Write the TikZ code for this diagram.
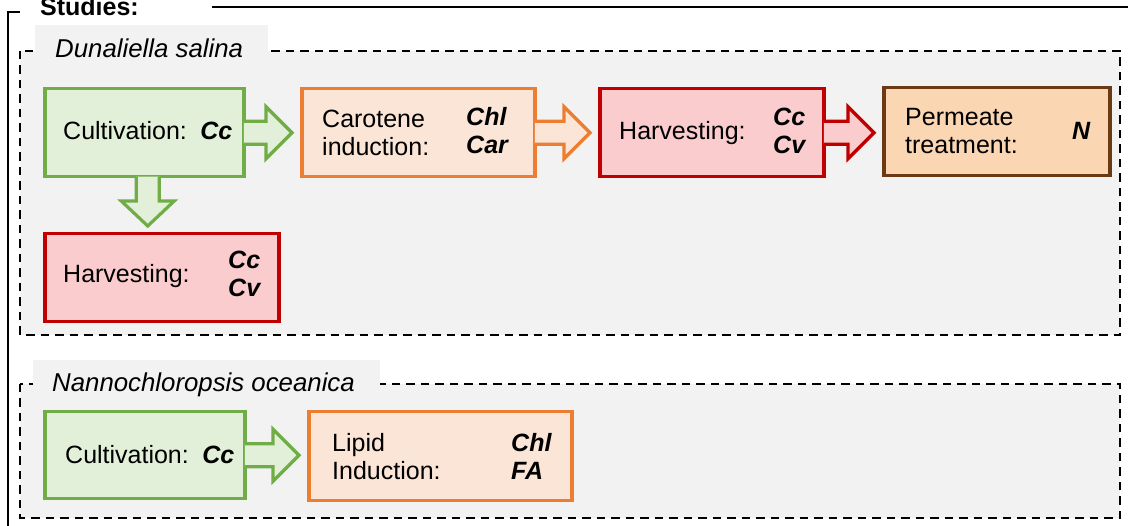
\documentclass[tikz,border=0pt]{standalone}
\usepackage{fontspec}
\setmainfont{Liberation Sans}
\usetikzlibrary{calc}
\definecolor{grnB}{HTML}{70AD47}
\definecolor{grnF}{HTML}{E2F0D9}
\definecolor{orgB}{HTML}{ED7D31}
\definecolor{orgF}{HTML}{FBE5D6}
\definecolor{redB}{HTML}{C00000}
\definecolor{redF}{HTML}{FACCCD}
\definecolor{brnB}{HTML}{6B3A14}
\definecolor{brnF}{HTML}{FBD6B2}
\definecolor{bgG}{HTML}{F2F2F2}
\newcommand{\bi}[1]{\textbf{\textit{#1}}}
\newcommand{\rarrow}[3]{%
  \coordinate (s) at (#2.east);
  \coordinate (t0) at ($(#3.west)+(-8,0)$);
  \coordinate (t) at (t0 |- s);
  \filldraw[#1] ($(s)+(-1.75,-11.5)$) -- ($(t)+(-26,-11.5)$) -- ($(t)+(-26,-26)$) -- (t)
    -- ($(t)+(-26,26)$) -- ($(t)+(-26,11.5)$) -- ($(s)+(-1.75,11.5)$);}
\begin{document}
\begin{tikzpicture}[x=1pt,y=-1pt,
  txt/.style={font=\fontsize{25}{28}\selectfont, inner sep=0pt, align=left, anchor=west},
  box/.style={draw, line width=3.5pt, inner sep=0pt, anchor=north west},
  grp/.style={draw, dashed, dash pattern=on 8.5pt off 6pt, line width=2.7pt, fill=bgG},
  arr/.style={line width=3.2pt, miter limit=10}]
\useasboundingbox (0,0) rectangle (1128,526);
\fill[white] (0,0) rectangle (1128,526);
% outer frame
\draw[line width=2pt] (20,12) -- (8,12) -- (8,530);
\draw[line width=2pt] (212,7) -- (1130,7);
\node[font=\fontsize{25}{30}\selectfont\bfseries, inner sep=0pt, anchor=base west] (studies) at (40,16) {Studies:};
% groups
\draw[grp] (20,51) rectangle (1120,335);
\fill[bgG] (35,25) rectangle (268,64);
\node[font=\fontsize{25.8}{30}\selectfont\itshape, inner sep=0pt, anchor=base west] (ds) at (55,58) {Dunaliella salina};
\draw[grp] (20,384) rectangle (1120,518);
\fill[bgG] (33,360) rectangle (380,398);
\node[font=\fontsize{25.8}{30}\selectfont\itshape, inner sep=0pt, anchor=base west] (no) at (52,392) {Nannochloropsis oceanica};
% boxes
\node[box, draw=grnB, fill=grnF, minimum width=199pt, minimum height=88pt] (cd) at (43,87) {};
\node[box, draw=orgB, fill=orgF, minimum width=233pt, minimum height=88pt] (car) at (300,87) {};
\node[box, draw=redB, fill=redF, minimum width=224pt, minimum height=88pt] (hv) at (598,87) {};
\node[box, draw=brnB, fill=brnF, minimum width=226pt, minimum height=88pt] (pt) at (882,86) {};
\node[box, draw=redB, fill=redF, minimum width=234pt, minimum height=88pt] (hv2) at (43,232) {};
\node[box, draw=grnB, fill=grnF, minimum width=200pt, minimum height=87pt] (cn) at (43,410) {};
\node[box, draw=orgB, fill=orgF, minimum width=263pt, minimum height=89pt] (li) at (307,410) {};
% arrows
\rarrow{arr, draw=grnB, fill=grnF}{cd}{car}
\rarrow{arr, draw=orgB, fill=orgF}{car}{hv}
\rarrow{arr, draw=redB, fill=redF}{hv}{pt}
\rarrow{arr, draw=grnB, fill=grnF}{cn}{li}
\coordinate (ds0) at ($(cd.south)+(3.5,0)$);
\coordinate (dt0) at ($(hv2.north)+(0,-6)$);
\coordinate (dt) at (ds0 |- dt0);
\filldraw[arr, draw=grnB, fill=grnF] ($(ds0)+(-11.5,-1.75)$) -- ($(dt)+(-11.5,-25)$) -- ($(dt)+(-26.5,-25)$) -- (dt)
  -- ($(dt)+(26.5,-25)$) -- ($(dt)+(11.5,-25)$) -- ($(ds0)+(11.5,-1.75)$);
% texts
\node[txt] (cdT) at (63,131) {Cultivation:\, \bi{Cc}};
\node[txt] (carT) at (322,133) {Carotene\\induction:};
\node[txt] (carV) at (466,131) {\bi{Chl}\\\bi{Car}};
\node[txt] (hvT) at (619,133) {Harvesting:};
\node[txt] (hvV) at (773,131) {\bi{Cc}\\\bi{Cv}};
\node[txt] (ptT) at (905,131) {Permeate\\treatment:};
\node[txt] (ptV) at (1072,131) {\bi{N}};
\node[txt] (hv2T) at (63,276) {Harvesting:};
\node[txt] (hv2V) at (228,274) {\bi{Cc}\\\bi{Cv}};
\node[txt] (cnT) at (65,455) {Cultivation:\, \bi{Cc}};
\node[txt] (liT) at (332,457) {Lipid\\Induction:};
\node[txt] (liV) at (511,456) {\bi{Chl}\\\bi{FA}};
\end{tikzpicture}
\end{document}
